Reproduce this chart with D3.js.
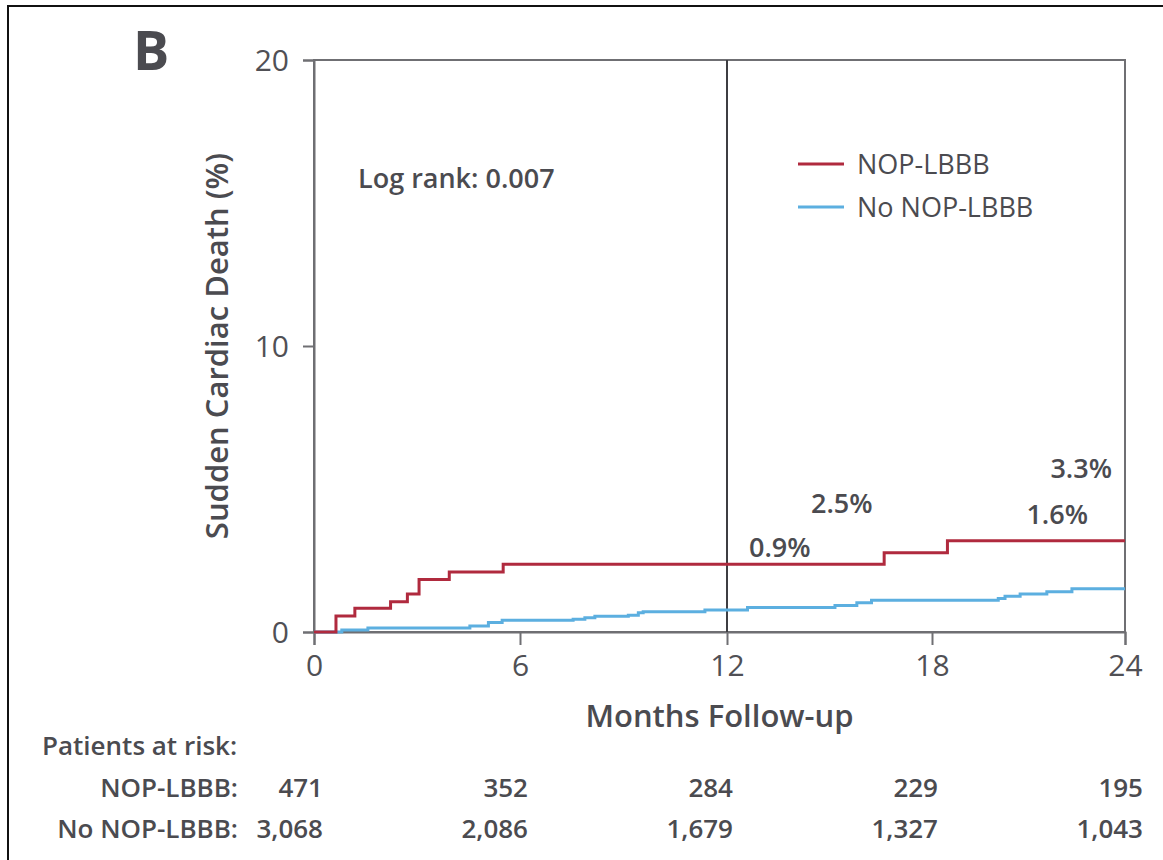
<!DOCTYPE html>
<html>
<head>
<meta charset="utf-8">
<script src="https://cdn.jsdelivr.net/npm/d3@7"></script>
<style>
  body { margin: 0; background: #fff; }
  svg { display: block; font-family: "Open Sans", sans-serif; }
</style>
</head>
<body>
<div id="chart"></div>
<script>
// step points: [month, cumulative %]
const nopLbbb = [
  [0, 0], [0.64, 0.56], [1.19, 0.83], [2.23, 1.06], [2.72, 1.33], [3.06, 1.84],
  [3.94, 2.10], [5.51, 2.37], [16.60, 2.77], [18.48, 3.19], [24, 3.19]
];
const noNopLbbb = [
  [0, 0], [0.81, 0.07], [1.57, 0.14], [4.54, 0.21], [5.08, 0.33], [5.48, 0.41],
  [7.54, 0.45], [7.88, 0.50], [8.17, 0.55], [9.14, 0.59], [9.43, 0.67], [9.57, 0.71],
  [11.36, 0.77], [12.6, 0.86], [15.16, 0.93], [15.80, 1.02], [16.23, 1.11],
  [20.06, 1.17], [20.27, 1.25], [20.74, 1.33], [21.57, 1.41], [22.35, 1.51], [24, 1.51]
];
const xTicks = [0, 6, 12, 18, 24];
const yTicks = [0, 10, 20];
const riskMonths = [0, 6, 12, 18, 24];
const riskNop = ['471', '352', '284', '229', '195'];
const riskNoNop = ['3,068', '2,086', '1,679', '1,327', '1,043'];
const annotations = [
  { t: 12, v: 4.16, text: '2.5%', dx: 84, anchor: 'start' },
  { t: 12, v: 2.62, text: '0.9%', dx: 22, anchor: 'start' },
  { t: 24, v: 5.38, text: '3.3%', dx: -13, anchor: 'end' },
  { t: 24, v: 3.78, text: '1.6%', dx: -37, anchor: 'end' }
];

const width = 1163;
const height = 860;
const red = '#b02a3e';
const blue = '#5cafe0';
const grey = '#4b4b50';

const svg = d3.select('#chart').append('svg')
  .attr('width', width)
  .attr('height', height);

// outer frame (runs off the right and bottom edges)
svg.append('rect')
  .attr('x', 8).attr('y', 6)
  .attr('width', width + 20).attr('height', height + 20)
  .attr('fill', 'none').attr('stroke', '#111').attr('stroke-width', 2);

// the printed axis is not quite uniform, so map each tick
const x = d3.scaleLinear().domain(xTicks).range([314, 520, 727, 932, 1125]);
const y = d3.scaleLinear().domain([0, 20]).range([632, 60]);

// plot box
svg.append('rect')
  .attr('x', x(0)).attr('y', y(20))
  .attr('width', x(24) - x(0)).attr('height', y(0) - y(20))
  .attr('fill', 'none').attr('stroke', '#6f6f73').attr('stroke-width', 2);

const xAxis = svg.append('g')
  .attr('transform', `translate(0,${y(0)})`)
  .call(d3.axisBottom(x).tickValues(xTicks).tickSize(13).tickPadding(10));
const yAxis = svg.append('g')
  .attr('transform', `translate(${x(0)},0)`)
  .call(d3.axisLeft(y).tickValues(yTicks).tickSize(11).tickPadding(14));

[xAxis, yAxis].forEach(a => {
  a.select('.domain').attr('stroke', '#6f6f73').attr('stroke-width', 2);
  a.selectAll('.tick line').attr('stroke', '#6f6f73').attr('stroke-width', 2);
  a.selectAll('.tick text')
    .attr('fill', '#505055')
    .style('font-size', '30px')
    .style('font-family', '"Open Sans", sans-serif');
});
yAxis.selectAll('.tick text').attr('dy', '0.35em');

// landmark line at 12 months
svg.append('line')
  .attr('x1', x(12)).attr('x2', x(12))
  .attr('y1', y(20)).attr('y2', y(0))
  .attr('stroke', '#3e3e42').attr('stroke-width', 2);

const line = d3.line()
  .x(d => x(d[0]))
  .y(d => y(d[1]))
  .curve(d3.curveStepAfter);

svg.append('path').datum(noNopLbbb)
  .attr('d', line).attr('fill', 'none')
  .attr('stroke', blue).attr('stroke-width', 3);
svg.append('path').datum(nopLbbb)
  .attr('d', line).attr('fill', 'none')
  .attr('stroke', red).attr('stroke-width', 3);

// panel letter
svg.append('text')
  .attr('x', 133).attr('y', 70)
  .attr('fill', grey)
  .style('font-size', '54px').style('font-weight', 700)
  .text('B');

// axis titles
svg.append('text')
  .attr('transform', `translate(228,${(y(0) + y(20)) / 2}) rotate(-90)`)
  .attr('text-anchor', 'middle')
  .attr('fill', grey)
  .style('font-size', '31px').style('font-weight', 600)
  .text('Sudden Cardiac Death (%)');

svg.append('text')
  .attr('x', (x(0) + x(24)) / 2).attr('y', 727)
  .attr('text-anchor', 'middle')
  .attr('fill', grey)
  .style('font-size', '31px').style('font-weight', 600)
  .text('Months Follow-up');

svg.append('text')
  .attr('x', 358).attr('y', 188)
  .attr('fill', grey)
  .style('font-size', '27px').style('font-weight', 600)
  .text('Log rank: 0.007');

// legend
const legend = svg.append('g').attr('transform', 'translate(798,164)');
[['NOP-LBBB', red], ['No NOP-LBBB', blue]].forEach(([label, c], i) => {
  const row = legend.append('g').attr('transform', `translate(0,${i * 43})`);
  row.append('line')
    .attr('x1', 0).attr('x2', 46)
    .attr('stroke', c).attr('stroke-width', 3);
  row.append('text')
    .attr('x', 59).attr('y', 10)
    .attr('fill', grey)
    .style('font-size', '27px')
    .text(label);
});

// percent annotations
svg.selectAll('.pct').data(annotations).enter().append('text')
  .attr('class', 'pct')
  .attr('x', d => x(d.t) + d.dx)
  .attr('y', d => y(d.v))
  .attr('text-anchor', d => d.anchor)
  .attr('fill', grey)
  .style('font-size', '27px').style('font-weight', 600)
  .text(d => d.text);

// patients at risk table
const riskX = d3.scaleLinear().domain([0, 24]).range([323, 1143]);
svg.append('text')
  .attr('x', 42).attr('y', 755)
  .attr('fill', grey)
  .style('font-size', '26px').style('font-weight', 600)
  .text('Patients at risk:');

[['NOP-LBBB:', riskNop, 797], ['No NOP-LBBB:', riskNoNop, 838]].forEach(([label, vals, yy]) => {
  svg.append('text')
    .attr('x', 238).attr('y', yy)
    .attr('text-anchor', 'end')
    .attr('fill', grey)
    .style('font-size', '26px').style('font-weight', 600)
    .text(label);
  svg.selectAll(null).data(vals).enter().append('text')
    .attr('x', (d, i) => riskX(riskMonths[i]))
    .attr('y', yy)
    .attr('text-anchor', 'end')
    .attr('fill', grey)
    .style('font-size', '26px').style('font-weight', 600)
    .text(d => d);
});
</script>
</body>
</html>
